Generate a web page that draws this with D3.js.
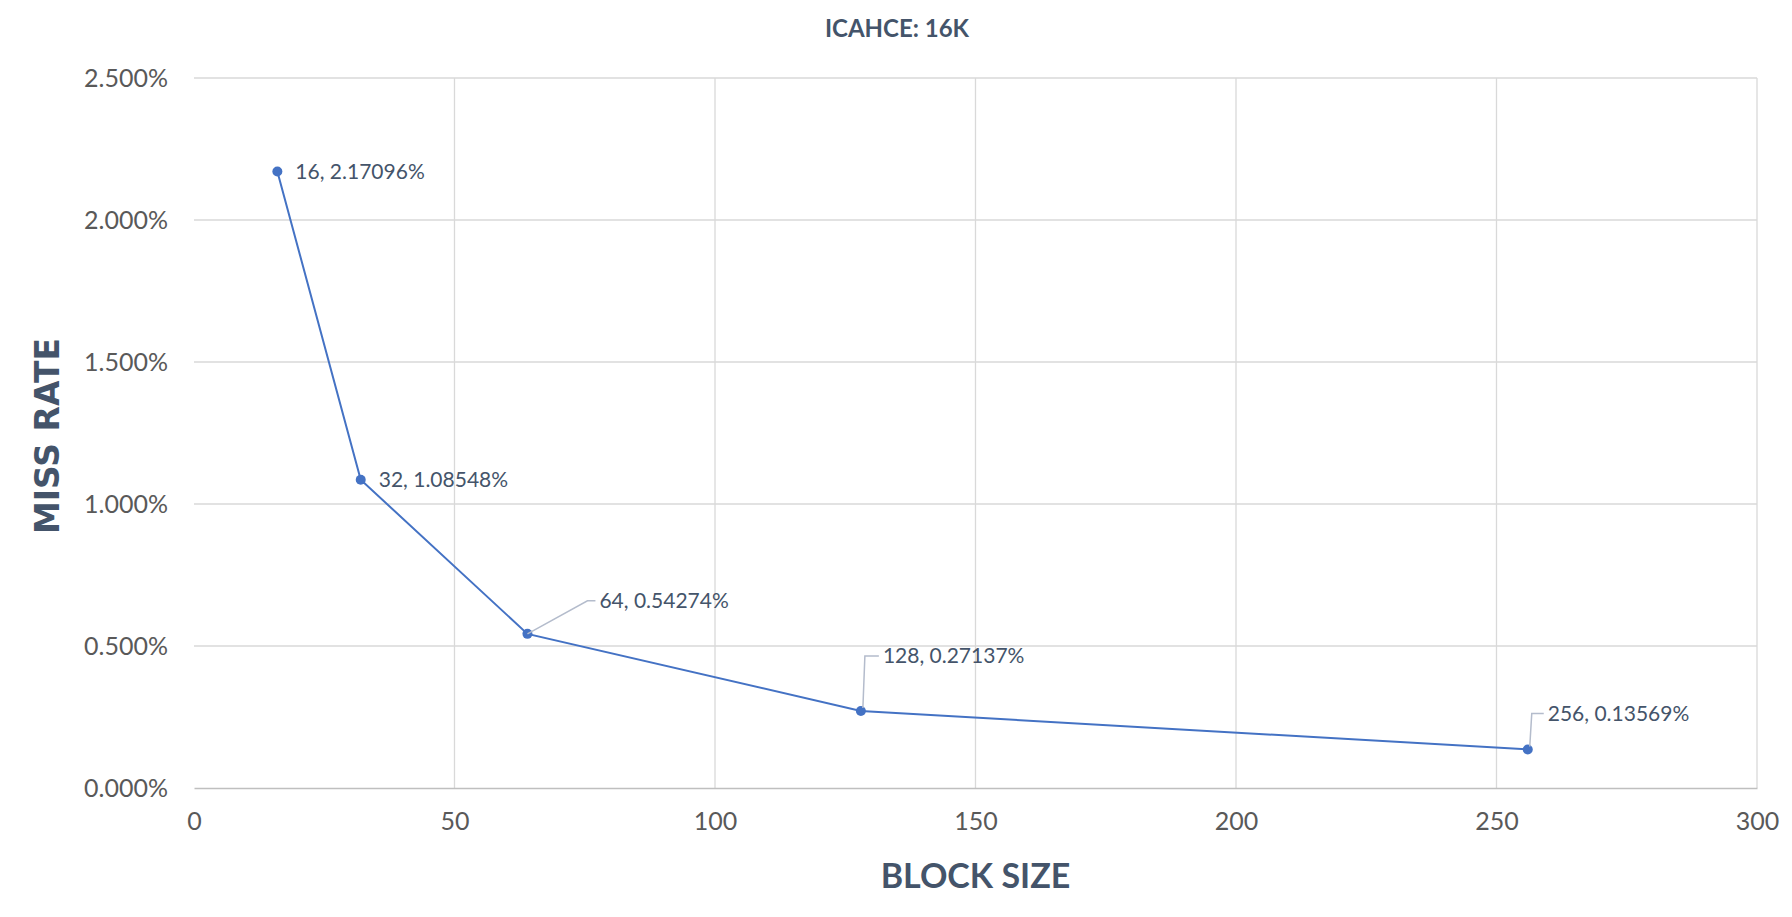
<!DOCTYPE html>
<html><head><meta charset="utf-8">
<script src="https://cdn.jsdelivr.net/npm/d3@7"></script>
<style>body{margin:0;background:#fff;font-family:Lato,"Open Sans",sans-serif;}</style>
</head><body><div id="chart"></div>
<script>
const blockSizes = [16, 32, 64, 128, 256];
const missRates = [2.17096, 1.08548, 0.54274, 0.27137, 0.13569];
const labelText = ["16, 2.17096%", "32, 1.08548%", "64, 0.54274%", "128, 0.27137%", "256, 0.13569%"];
const xTicks = [0, 50, 100, 150, 200, 250, 300];
const yTicks = [0, 0.5, 1, 1.5, 2, 2.5];

const W = 1792, H = 917;
const m = {left: 194, right: 35, top: 78, bottom: 129};
const svg = d3.select('#chart').append('svg').attr('width', W).attr('height', H);
const x = d3.scaleLinear().domain([0, 300]).range([m.left, W - m.right]);
const y = d3.scaleLinear().domain([0, 2.5]).range([H - m.bottom, m.top]);
const ink = '#44546a', blue = '#4472c4';

// gridlines
svg.selectAll('.gx').data(xTicks.slice(1)).enter().append('line')
    .attr('x1', d => x(d)).attr('x2', d => x(d)).attr('y1', y(0)).attr('y2', y(2.5))
    .attr('stroke', '#d9d9d9').attr('stroke-width', 1.3);
svg.selectAll('.gy').data(yTicks.slice(1)).enter().append('line')
    .attr('x1', x(0)).attr('x2', x(300)).attr('y1', d => y(d)).attr('y2', d => y(d))
    .attr('stroke', '#d9d9d9').attr('stroke-width', 1.3);

// axes
const xAxis = svg.append('g').attr('transform', `translate(0,${y(0)})`)
    .call(d3.axisBottom(x).tickValues(xTicks).tickSize(0).tickPadding(24));
const yAxis = svg.append('g').attr('transform', `translate(${x(0)},0)`)
    .call(d3.axisLeft(y).tickValues(yTicks).tickSize(0).tickPadding(26).tickFormat(d => d.toFixed(3) + '%'));
[xAxis, yAxis].forEach(a => {
    a.select('.domain').attr('stroke', '#bfbfbf').attr('stroke-width', 1.3);
    a.selectAll('text').attr('fill', '#595959').style('font-size', '25px').style('font-family', 'Lato, sans-serif');
});
yAxis.select('.domain').remove();
xAxis.selectAll('text').attr('dy', '0.71em');

// line and points
const pts = blockSizes.map((b, i) => ({b, r: missRates[i], t: labelText[i]}));
svg.append('path').datum(pts)
    .attr('d', d3.line().x(d => x(d.b)).y(d => y(d.r)))
    .attr('fill', 'none').attr('stroke', blue).attr('stroke-width', 2);
svg.selectAll('.pt').data(pts).enter().append('circle')
    .attr('cx', d => x(d.b)).attr('cy', d => y(d.r)).attr('r', 5).attr('fill', blue);

// data labels (with leader lines for the lower three)
const offs = [[18, 0, false], [18, 0, false], [72, -33, true], [22, -55, true], [20, -36, true]];
pts.forEach((d, i) => {
    const [dx, dy, lead] = offs[i];
    const px = x(d.b), py = y(d.r);
    if (lead) {
        const p = i > 2
            ? `${px + 2},${py - 3} ${px + 4},${py + dy} ${px + dx - 4},${py + dy}`
            : `${px},${py} ${px + dx - 12},${py + dy} ${px + dx - 4},${py + dy}`;
        svg.append('polyline').attr('points', p)
            .attr('fill', 'none').attr('stroke', '#b4bccc').attr('stroke-width', 1.5);
    }
    svg.append('text').attr('x', px + dx).attr('y', py + dy).attr('dy', '0.35em')
        .attr('fill', ink).style('font-size', '21px').text(d.t);
});

// titles
svg.append('text').attr('x', W / 2 + 1).attr('y', 29).attr('text-anchor', 'middle').attr('dy', '0.35em')
    .attr('fill', ink).style('font-weight', 'bold').style('font-size', '24px').text('ICAHCE: 16K');
svg.append('text').attr('x', (x(0) + x(300)) / 2).attr('y', 876).attr('text-anchor', 'middle').attr('dy', '0.35em')
    .attr('fill', ink).style('font-weight', 'bold').style('font-size', '34px').text('BLOCK SIZE');
svg.append('text').attr('transform', `translate(47,${(y(0) + y(2.5)) / 2 + 3}) rotate(-90)`)
    .attr('text-anchor', 'middle').attr('dy', '0.35em')
    .attr('fill', ink).style('font-weight', '900').style('font-size', '33px')
    .style('font-family', '"DejaVu Sans", sans-serif').text('MISS RATE');
</script></body></html>
